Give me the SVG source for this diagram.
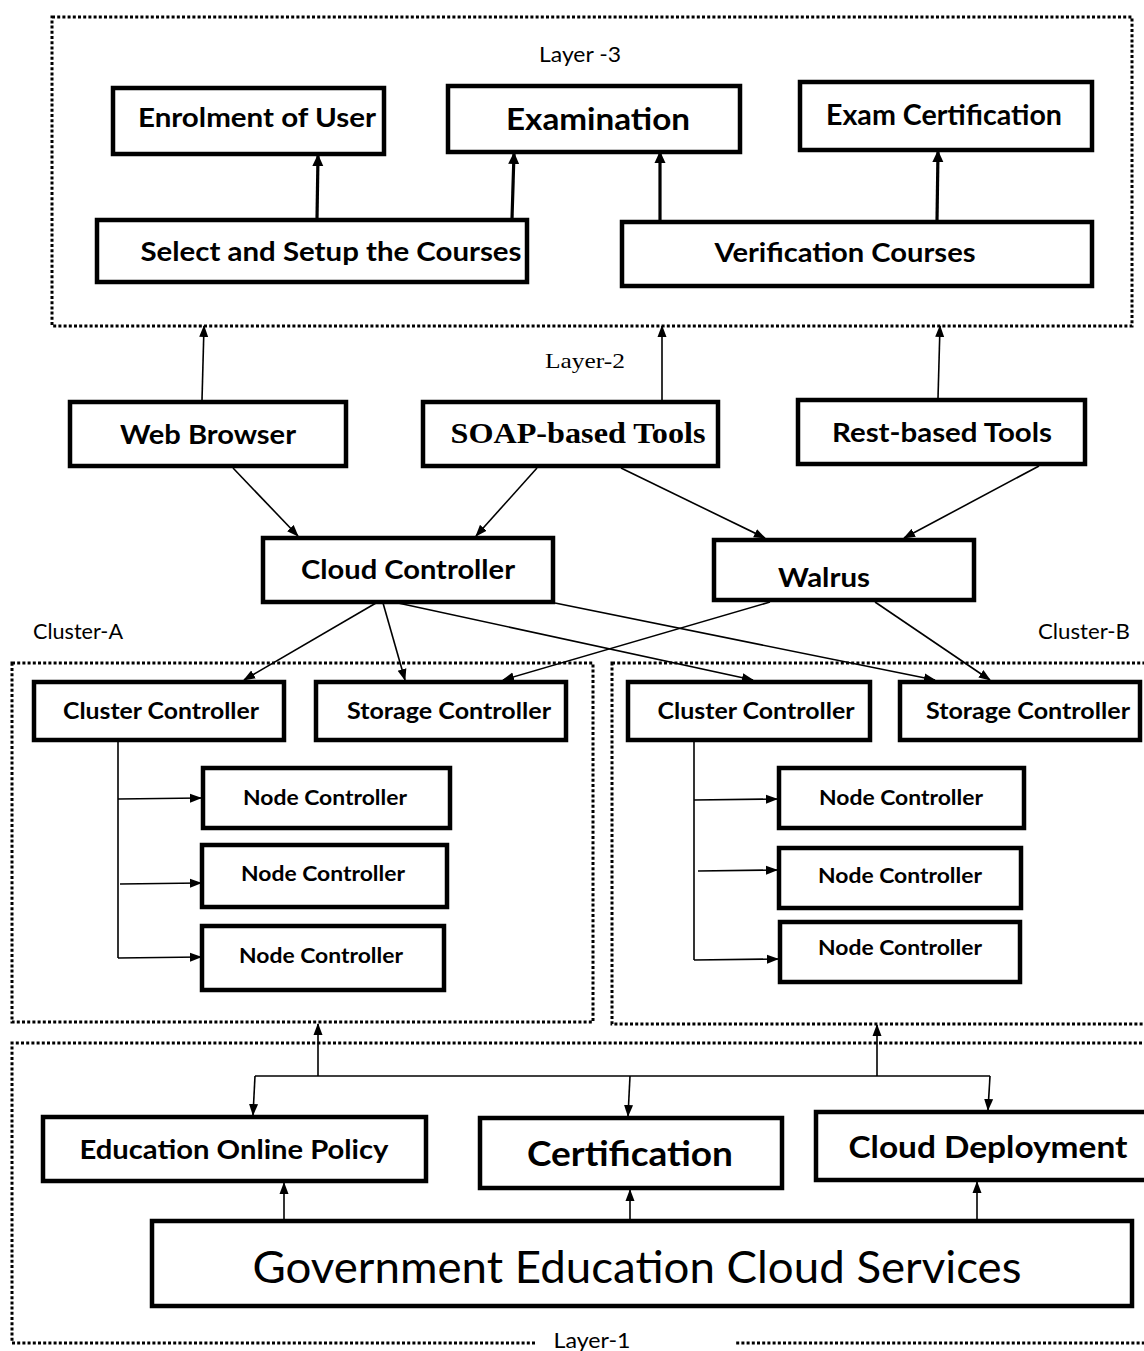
<svg xmlns="http://www.w3.org/2000/svg" width="1144" height="1351" viewBox="0 0 1144 1351">
<style>
.box{fill:#fff;stroke:#000;stroke-width:4.5}
.dot{fill:none;stroke:#000;stroke-width:3;stroke-dasharray:3 2.2}
.t{font-family:Lato,"Open Sans","Liberation Sans",sans-serif;font-weight:bold;fill:#000;text-anchor:middle}
.r{font-family:Lato,"Open Sans","Liberation Sans",sans-serif;fill:#000}
.s{font-family:"Liberation Serif","Times New Roman",serif;fill:#000}
.thick{stroke:#000;stroke-width:3.2;fill:none;marker-end:url(#ah)}
.thin{stroke:#000;stroke-width:1.6;fill:none;marker-end:url(#as)}
.plain{stroke:#000;stroke-width:1.6;fill:none}
</style>
<defs>
<marker id="ah" markerUnits="userSpaceOnUse" markerWidth="12" markerHeight="12" refX="11" refY="6" orient="auto"><path d="M0,0.5 L12,6 L0,11.5 Z" fill="#000"/></marker>
<marker id="as" markerUnits="userSpaceOnUse" markerWidth="12" markerHeight="10" refX="11" refY="5" orient="auto"><path d="M0,0.5 L12,5 L0,9.5 Z" fill="#000"/></marker>
</defs>
<rect width="1144" height="1351" fill="#fff"/>

<g id="layer3">
<rect class="dot" x="52" y="17" width="1080" height="309"/>
<text class="r" x="580" y="62" font-size="21" text-anchor="middle" textLength="82" lengthAdjust="spacingAndGlyphs">Layer -3</text>
</g>
<g id="enrolment"><rect class="box" x="113" y="88" width="271" height="66"/><text class="t" x="257" y="127" font-size="27" textLength="238" lengthAdjust="spacingAndGlyphs">Enrolment of User</text></g>
<g id="examination"><rect class="box" x="448" y="86" width="292" height="66"/><text class="t" x="598" y="130" font-size="31" textLength="184" lengthAdjust="spacingAndGlyphs">Examination</text></g>
<g id="examcert"><rect class="box" x="800" y="82" width="292" height="68"/><text class="t" x="944" y="125" font-size="28" textLength="236" lengthAdjust="spacingAndGlyphs">Exam Certification</text></g>
<g id="select"><rect class="box" x="97" y="220" width="430" height="62"/><text class="t" x="331" y="261" font-size="27" textLength="381" lengthAdjust="spacingAndGlyphs">Select and Setup the Courses</text></g>
<g id="verification"><rect class="box" x="622" y="222" width="470" height="64"/><text class="t" x="845" y="262" font-size="27" textLength="261" lengthAdjust="spacingAndGlyphs">Verification Courses</text></g>

<text class="s" x="585" y="368" font-size="21" text-anchor="middle" textLength="80" lengthAdjust="spacingAndGlyphs">Layer-2</text>

<g id="webbrowser"><rect class="box" x="70" y="402" width="276" height="64"/><text class="t" x="208" y="444" font-size="26" textLength="176" lengthAdjust="spacingAndGlyphs">Web Browser</text></g>
<g id="soap"><rect class="box" x="423" y="402" width="295" height="64"/><text class="s" x="578" y="443" font-size="29" font-weight="bold" text-anchor="middle" textLength="255" lengthAdjust="spacingAndGlyphs">SOAP-based Tools</text></g>
<g id="rest"><rect class="box" x="798" y="400" width="287" height="64"/><text class="t" x="942" y="442" font-size="26" textLength="220" lengthAdjust="spacingAndGlyphs">Rest-based Tools</text></g>
<g id="cloudcontroller"><rect class="box" x="263" y="538" width="290" height="64"/><text class="t" x="408" y="579" font-size="26" textLength="214" lengthAdjust="spacingAndGlyphs">Cloud Controller</text></g>
<g id="walrus"><rect class="box" x="714" y="540" width="260" height="60"/><text class="t" x="824" y="587" font-size="26" textLength="92" lengthAdjust="spacingAndGlyphs">Walrus</text></g>

<g id="clusterA">
<rect class="dot" x="12" y="663" width="581" height="359"/>
<text class="r" x="33" y="639" font-size="21" textLength="90" lengthAdjust="spacingAndGlyphs">Cluster-A</text>
</g>
<g id="clusterB">
<rect class="dot" x="612" y="663" width="545" height="361"/>
<text class="r" x="1130" y="639" font-size="21" text-anchor="end" textLength="92" lengthAdjust="spacingAndGlyphs">Cluster-B</text>
</g>

<g id="ccA"><rect class="box" x="34" y="682" width="250" height="58"/><text class="t" x="161" y="719" font-size="23" textLength="196" lengthAdjust="spacingAndGlyphs">Cluster Controller</text></g>
<g id="scA"><rect class="box" x="316" y="682" width="250" height="58"/><text class="t" x="449" y="719" font-size="23" textLength="204" lengthAdjust="spacingAndGlyphs">Storage Controller</text></g>
<g id="ccB"><rect class="box" x="628" y="682" width="242" height="58"/><text class="t" x="756" y="719" font-size="23" textLength="197" lengthAdjust="spacingAndGlyphs">Cluster Controller</text></g>
<g id="scB"><rect class="box" x="900" y="682" width="240" height="58"/><text class="t" x="1028" y="719" font-size="23" textLength="204" lengthAdjust="spacingAndGlyphs">Storage Controller</text></g>

<g id="ncA1"><rect class="box" x="203" y="768" width="247" height="60"/><text class="t" x="325" y="805" font-size="21" textLength="164" lengthAdjust="spacingAndGlyphs">Node Controller</text></g>
<g id="ncA2"><rect class="box" x="202" y="845" width="245" height="62"/><text class="t" x="323" y="881" font-size="21" textLength="164" lengthAdjust="spacingAndGlyphs">Node Controller</text></g>
<g id="ncA3"><rect class="box" x="202" y="926" width="242" height="64"/><text class="t" x="321" y="963" font-size="21" textLength="164" lengthAdjust="spacingAndGlyphs">Node Controller</text></g>
<g id="ncB1"><rect class="box" x="779" y="768" width="245" height="60"/><text class="t" x="901" y="805" font-size="21" textLength="164" lengthAdjust="spacingAndGlyphs">Node Controller</text></g>
<g id="ncB2"><rect class="box" x="779" y="848" width="242" height="60"/><text class="t" x="900" y="883" font-size="21" textLength="164" lengthAdjust="spacingAndGlyphs">Node Controller</text></g>
<g id="ncB3"><rect class="box" x="780" y="922" width="240" height="60"/><text class="t" x="900" y="955" font-size="21" textLength="164" lengthAdjust="spacingAndGlyphs">Node Controller</text></g>

<g id="layer1">
<path class="dot" d="M535,1343 H12 V1043 H1150 M1150,1343 H735"/>
<text class="r" x="592" y="1348" font-size="21" text-anchor="middle" textLength="77" lengthAdjust="spacingAndGlyphs">Layer-1</text>
</g>
<g id="policy"><rect class="box" x="43" y="1117" width="383" height="64"/><text class="t" x="234" y="1159" font-size="26" textLength="309" lengthAdjust="spacingAndGlyphs">Education Online Policy</text></g>
<g id="certification"><rect class="box" x="480" y="1118" width="302" height="70"/><text class="t" x="630" y="1166" font-size="34" textLength="206" lengthAdjust="spacingAndGlyphs">Certification</text></g>
<g id="deployment"><rect class="box" x="816" y="1112" width="340" height="68"/><text class="t" x="988" y="1158" font-size="30" textLength="279" lengthAdjust="spacingAndGlyphs">Cloud Deployment</text></g>
<g id="government"><rect class="box" x="152" y="1221" width="980" height="85"/><text class="r" x="637" y="1283" font-size="44" text-anchor="middle" textLength="769" lengthAdjust="spacingAndGlyphs">Government Education Cloud Services</text></g>

<g id="connectors">
<line class="thick" x1="317" y1="219" x2="318" y2="155"/>
<line class="thick" x1="512" y1="219" x2="514" y2="153"/>
<line class="thick" x1="660" y1="221" x2="660" y2="152"/>
<line class="thick" x1="937" y1="221" x2="938" y2="151"/>

<line class="thin" x1="202" y1="400" x2="204" y2="326"/>
<line class="thin" x1="662" y1="400" x2="662" y2="326"/>
<line class="thin" x1="938" y1="398" x2="940" y2="326"/>

<line class="thin" x1="233" y1="468" x2="298" y2="536"/>
<line class="thin" x1="537" y1="468" x2="476" y2="536"/>
<line class="thin" x1="621" y1="468" x2="765" y2="538"/>
<line class="thin" x1="1039" y1="466" x2="904" y2="538"/>

<line class="thin" x1="376" y1="603" x2="244" y2="680"/>
<line class="thin" x1="383" y1="603" x2="405" y2="680"/>
<line class="thin" x1="398" y1="603" x2="753" y2="680"/>
<line class="thin" x1="555" y1="603" x2="935" y2="680"/>
<line class="thin" x1="770" y1="602" x2="503" y2="680"/>
<line class="thin" x1="875" y1="602" x2="990" y2="680"/>

<polyline class="plain" points="118,741 118,958"/>
<line class="thin" x1="118" y1="799" x2="201" y2="798"/>
<line class="thin" x1="120" y1="884" x2="201" y2="883"/>
<line class="thin" x1="118" y1="958" x2="201" y2="957"/>

<polyline class="plain" points="694,741 694,960"/>
<line class="thin" x1="694" y1="800" x2="777" y2="799"/>
<line class="thin" x1="698" y1="871" x2="777" y2="870"/>
<line class="thin" x1="694" y1="960" x2="778" y2="959"/>

<line class="thin" x1="318" y1="1076" x2="318" y2="1024"/>
<line class="thin" x1="877" y1="1076" x2="877" y2="1025"/>
<polyline class="plain" points="255,1076 990,1076"/>
<line class="thin" x1="255" y1="1076" x2="253" y2="1115"/>
<line class="thin" x1="630" y1="1076" x2="628" y2="1116"/>
<line class="thin" x1="990" y1="1076" x2="988" y2="1110"/>

<line class="thin" x1="284" y1="1219" x2="284" y2="1183"/>
<line class="thin" x1="630" y1="1219" x2="630" y2="1190"/>
<line class="thin" x1="977" y1="1219" x2="977" y2="1182"/>
</g>
</svg>
